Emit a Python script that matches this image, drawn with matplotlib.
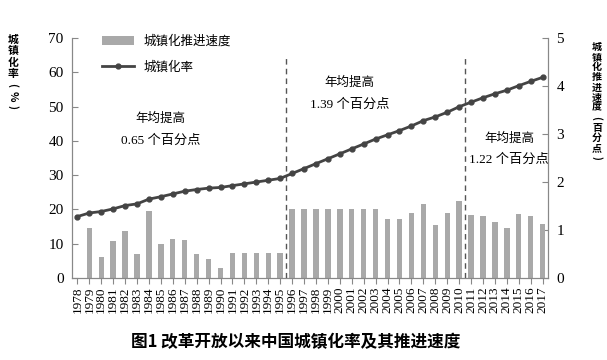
import matplotlib
matplotlib.use("Agg")
import matplotlib.pyplot as plt
from matplotlib.patches import Patch
from matplotlib.lines import Line2D

plt.rcParams["font.family"] = ["Noto Sans CJK SC", "DejaVu Sans"]

years = list(range(1978, 2018))
rate = [17.92, 18.96, 19.39, 20.16, 21.13, 21.62, 23.01, 23.71, 24.52, 25.32,
        25.81, 26.21, 26.41, 26.94, 27.46, 27.99, 28.51, 29.04, 30.48, 31.91,
        33.35, 34.78, 36.22, 37.66, 39.09, 40.53, 41.76, 42.99, 44.34, 45.89,
        46.99, 48.34, 49.95, 51.27, 52.57, 53.73, 54.77, 56.10, 57.35, 58.52]
bar_years = years[1:]
speed = [1.04, 0.43, 0.77, 0.97, 0.49, 1.39, 0.70, 0.81, 0.80, 0.49,
         0.40, 0.20, 0.53, 0.52, 0.53, 0.52, 0.53, 1.44, 1.43, 1.44,
         1.43, 1.44, 1.44, 1.43, 1.44, 1.23, 1.23, 1.35, 1.55, 1.10,
         1.35, 1.61, 1.31, 1.30, 1.16, 1.04, 1.33, 1.30, 1.12]
breaks = [1995.5, 2010.5]
notes = [("0.65", 1985.0, 46.6), ("1.39", 2000.8, 57.1), ("1.22", 2014.2, 40.8)]
left_title = "城镇化率(%)"
right_title = "城镇化推进速度(百分点)"

serif = "Liberation Serif"
mixed = [serif, "Noto Sans CJK SC"]
gray = "#a9a9a9"
line_c = "#444444"
spine_c = "#888888"

W, H = 607, 360
fig = plt.figure(figsize=(W / 100, H / 100), dpi=100)
ax = fig.add_axes([0.1186, 0.2278, 0.7842, 0.6666])
ax2 = ax.twinx()

ax2.bar(bar_years, speed, width=0.45, color=gray, zorder=2)
ax.plot(years, rate, color=line_c, lw=2.0, marker="o", ms=3.5, zorder=5)
ax.set_zorder(ax2.get_zorder() + 1)
ax.patch.set_visible(False)

for b in breaks:
    ax.plot([b, b], [0, 65], color="#555555", lw=1.0, ls=(0, (4, 3)), zorder=3)

ax.set_xlim(1977.55, 2017.45)
ax.set_ylim(0, 70)
ax2.set_ylim(0, 5)
ax.set_yticks(range(0, 71, 10))
ax2.set_yticks(range(0, 6))
ax.set_xticks(years)
ax.set_xticklabels([str(y) for y in years], rotation=90)

for a in (ax, ax2):
    a.spines["top"].set_visible(False)
    for s in ("left", "right", "bottom"):
        a.spines[s].set_color(spine_c)
ax.tick_params(axis="y", direction="in", length=4, color=spine_c, pad=6,
               labelsize=11, labelfontfamily=serif)
ax2.tick_params(axis="y", direction="in", length=4, color=spine_c, pad=6,
                labelsize=11, labelfontfamily=serif)
ax.tick_params(axis="x", direction="out", length=4, color=spine_c, pad=2,
               labelsize=9.5, labelfontfamily=serif)

for txt, x, y in notes:
    ax.text(x, y, "年均提高", ha="center", va="center", fontsize=9)
    ax.text(x, y - 6.4, txt + " 个百分点", ha="center", va="center",
            fontsize=9.5, family=mixed)

# legend
handles = [Patch(facecolor=gray, edgecolor="none", label="城镇化推进速度"),
           Line2D([0], [0], color=line_c, lw=2, marker="o", ms=3.5, label="城镇化率")]
ax.legend(handles=handles, loc="upper left", bbox_to_anchor=(0.04, 1.06),
          frameon=False, fontsize=9, handlelength=2.5, labelspacing=1.0)


def vertical_title(text, x, y0, step, size):
    # one glyph per line; ASCII glyphs (brackets, %) are turned sideways
    for i, ch in enumerate(text):
        rot = -90 if ch.isascii() else 0
        fig.text(x / W, 1 - (y0 + i * step) / H, ch, ha="center", va="center",
                 fontsize=size, fontweight="bold", rotation=rot)


vertical_title(left_title, 13, 40, 11.2, 7.8)
vertical_title(right_title, 597, 47, 10.1, 7.2)

fig.text(0.487, 0.05, "图1 改革开放以来中国城镇化率及其推进速度", ha="center",
         va="center", fontsize=12, fontweight="bold")

fig.savefig("out.png", dpi=100, facecolor="white")
